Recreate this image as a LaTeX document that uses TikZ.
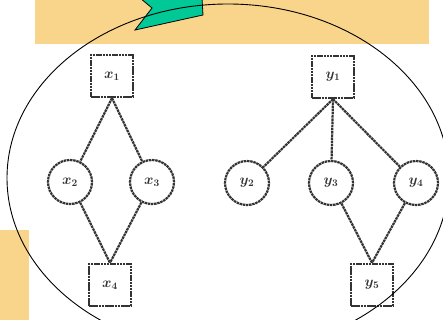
\documentclass[tikz,border=0pt]{standalone}
\usetikzlibrary{shapes.geometric}
\definecolor{bandorange}{HTML}{F9D48B}
\definecolor{flaggreen}{HTML}{00C896}
\tikzset{
  sketchline/.style={line width=2.2pt, dash pattern=on 2.5pt off 0.7pt, black!80},
  sqnode/.style={draw, sketchline, minimum width=42pt, minimum height=42pt, inner sep=0pt, font=\Large\boldmath},
  cirnode/.style={draw, sketchline, circle, minimum size=44pt, inner sep=0pt, font=\Large\boldmath},
  edge/.style={sketchline}
}
\begin{document}
\begin{tikzpicture}[x=1pt,y=-1pt]
  \useasboundingbox (0,0) rectangle (443,320);
  % background bands
  \fill[bandorange] (35,0) rectangle (429,44);
  \fill[bandorange] (0,230) rectangle (29,320);
  % green flag
  \draw[fill=flaggreen, line width=0.8pt, line join=miter]
    (140,-2) -- (152,8) -- (135,30) -- (203,15) -- (202,-2) -- cycle;
  % left graph
  \node[sqnode]  (la) at (112,76)  {$x_1$};
  \node[cirnode] (lb) at (70,182)  {$x_2$};
  \node[cirnode] (lc) at (152,182) {$x_3$};
  \node[sqnode]  (ld) at (110,285) {$x_4$};
  \coordinate (lat) at (la.south);
  \coordinate (ldt) at (ld.north);
  \draw[edge] (lat) -- (lb);
  \draw[edge] (lat) -- (lc);
  \draw[edge] (lb) -- (ldt);
  \draw[edge] (lc) -- (ldt);
  % right graph
  \node[sqnode]  (ra) at (333,77)  {$y_1$};
  \node[cirnode] (rb) at (247,183) {$y_2$};
  \node[cirnode] (rc) at (331,183) {$y_3$};
  \node[cirnode] (rd) at (416,183) {$y_4$};
  \node[sqnode]  (re) at (372,285) {$y_5$};
  \coordinate (rat) at (ra.south);
  \coordinate (ret) at (re.north);
  \draw[edge] (rat) -- (rb);
  \draw[edge] (rat) -- (rc);
  \draw[edge] (rat) -- (rd);
  \draw[edge] (rc) -- (ret);
  \draw[edge] (rd) -- (ret);
  % enclosing ellipse
  \draw[line width=0.9pt] (228,178) ellipse [x radius=221, y radius=174];
\end{tikzpicture}
\end{document}
